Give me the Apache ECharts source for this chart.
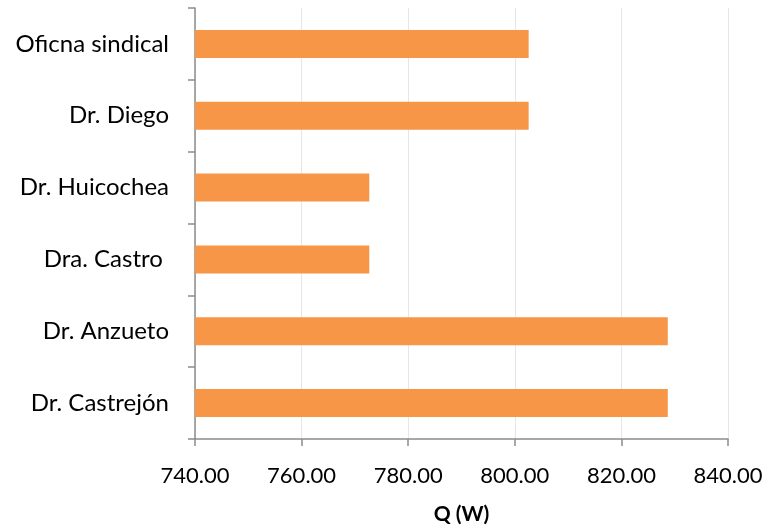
<!DOCTYPE html>
<html>
<head>
<meta charset="utf-8">
<script src="https://cdn.jsdelivr.net/npm/echarts@6/dist/echarts.min.js"></script>
<style>
  html, body { margin: 0; padding: 0; background: #fff; }
  #chart { width: 770px; height: 527px; }
</style>
</head>
<body>
<div id="chart"></div>
<script>
// Heat load per office, top to bottom
const categories = ['Oficna sindical', 'Dr. Diego', 'Dr. Huicochea', 'Dra. Castro ', 'Dr. Anzueto', 'Dr. Castrejón'];
const values = [802.6, 802.6, 772.7, 772.7, 828.7, 828.7];
const xMin = 740, xMax = 840, xStep = 20;

const FONT = 'Lato, "Open Sans", sans-serif';
const chart = echarts.init(document.getElementById('chart'), null, { renderer: 'canvas' });
chart.setOption({
  animation: false,
  backgroundColor: '#ffffff',
  grid: { left: 195, right: 42, top: 8, bottom: 88, containLabel: false, outerBoundsMode: 'none' },
  xAxis: {
    type: 'value',
    min: xMin, max: xMax, interval: xStep,
    name: 'Q (W)',
    nameLocation: 'middle',
    nameGap: 65,
    nameTextStyle: { fontFamily: FONT, fontSize: 21, fontWeight: 'bold', color: '#000' },
    axisLine: { show: true, lineStyle: { color: '#8c8c8c', width: 1.5 } },
    axisTick: { show: true, length: 7, inside: false, lineStyle: { color: '#8c8c8c', width: 1.5 } },
    axisLabel: { fontFamily: FONT, fontSize: 22, color: '#000', margin: 26, formatter: v => v.toFixed(2) },
    splitLine: { show: true, lineStyle: { color: '#e6e6e6', width: 1 } }
  },
  yAxis: {
    type: 'category',
    data: categories,
    inverse: true,
    axisLine: { show: true, lineStyle: { color: '#8c8c8c', width: 1.5 } },
    axisTick: { show: true, length: 7, inside: false, lineStyle: { color: '#8c8c8c', width: 1.5 } },
    axisLabel: { fontFamily: FONT, fontSize: 24, color: '#000', margin: 26 },
    splitLine: { show: false }
  },
  series: [{
    type: 'bar',
    data: values,
    barWidth: 28,
    itemStyle: { color: '#F79646' }
  }]
});
</script>
</body>
</html>
